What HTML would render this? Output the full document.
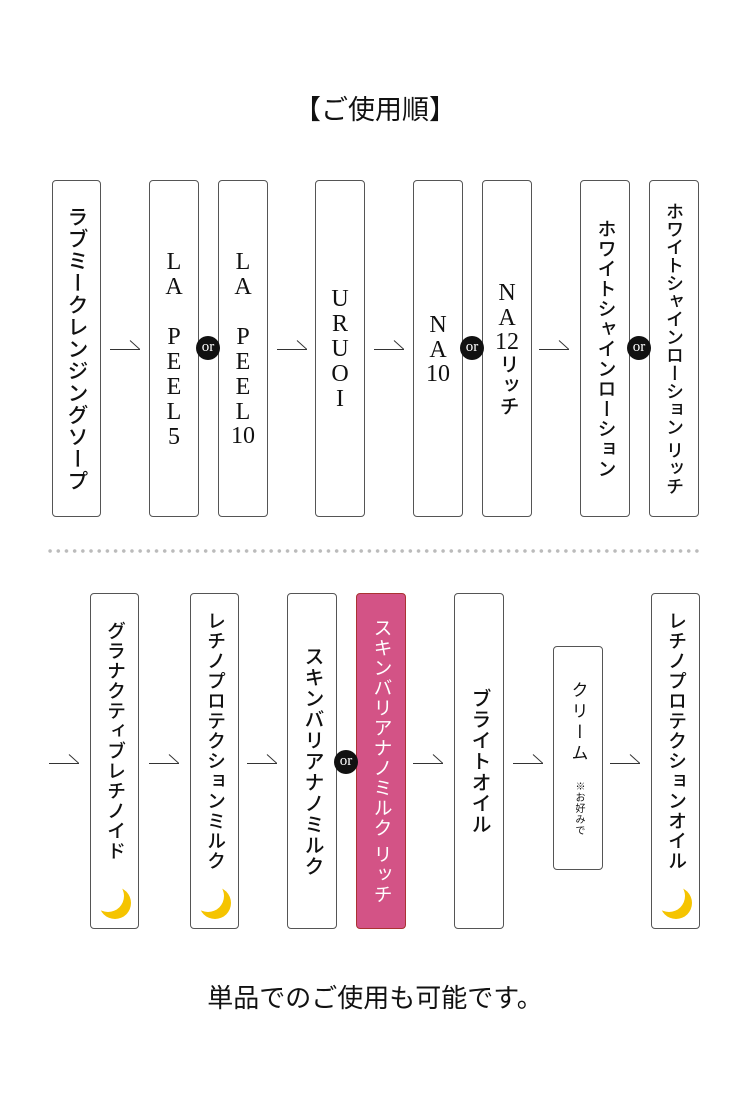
<!DOCTYPE html>
<html><head><meta charset="utf-8"><style>
body{margin:0;width:750px;height:1100px;background:#fff;position:relative;overflow:hidden;font-family:"Liberation Sans","Noto Sans CJK JP",sans-serif;color:#111}
.b{position:absolute;border:1px solid #555;border-radius:4px;box-sizing:border-box;background:#fff;display:flex;align-items:center;justify-content:center}
.v{writing-mode:vertical-rl;font-size:20px;line-height:1;letter-spacing:1px;white-space:nowrap;font-weight:500}
.lat{font-family:"Liberation Serif",serif;text-orientation:upright;font-size:24px;letter-spacing:-1px;font-weight:400}
.tcy{text-combine-upright:all}
.a{position:absolute;width:30px;height:10px}
.or{position:absolute;width:24px;height:24px;border-radius:50%;background:#111;color:#fff;font-family:"Liberation Serif",serif;font-size:15px;line-height:22px;text-align:center;margin:-12px 0 0 -12px}
.moon{position:absolute;bottom:7px;left:8px}
</style></head><body>
<div style="position:absolute;top:88px;width:750px;text-align:center;font-size:27px;font-weight:400">【ご使用順】</div>

<div class="b" style="left:52px;top:180px;width:49px;height:337px"><div class="v" style="font-size:21px">ラブミークレンジングソープ</div></div>
<div class="b" style="left:149px;top:180px;width:50px;height:337px"><div class="v lat">LA PEEL5</div></div>
<div class="b" style="left:218px;top:180px;width:50px;height:337px"><div class="v lat">LA PEEL<span class="tcy">10</span></div></div>
<div class="b" style="left:315px;top:180px;width:50px;height:337px"><div class="v lat">URUOI</div></div>
<div class="b" style="left:413px;top:180px;width:50px;height:337px"><div class="v lat">NA<span class="tcy">10</span></div></div>
<div class="b" style="left:482px;top:180px;width:50px;height:337px"><div class="v"><span class="lat">NA<span class="tcy">12</span></span>リッチ</div></div>
<div class="b" style="left:580px;top:180px;width:50px;height:337px"><div class="v" style="font-size:19px">ホワイトシャインローション</div></div>
<div class="b" style="left:649px;top:180px;width:50px;height:337px"><div class="v" style="font-size:18px;letter-spacing:0">ホワイトシャインローション リッチ</div></div>

<div class="or" style="left:208px;top:348px">or</div>
<div class="or" style="left:472px;top:348px">or</div>
<div class="or" style="left:639px;top:348px">or</div>

<svg class="a" style="left:110px;top:340px" viewBox="0 0 30 10"><path d="M0 9.5H30L20 0.5" fill="none" stroke="#333"/></svg>
<svg class="a" style="left:277px;top:340px" viewBox="0 0 30 10"><path d="M0 9.5H30L20 0.5" fill="none" stroke="#333"/></svg>
<svg class="a" style="left:374px;top:340px" viewBox="0 0 30 10"><path d="M0 9.5H30L20 0.5" fill="none" stroke="#333"/></svg>
<svg class="a" style="left:539px;top:340px" viewBox="0 0 30 10"><path d="M0 9.5H30L20 0.5" fill="none" stroke="#333"/></svg>

<div style="position:absolute;left:46px;top:549px;width:656px;height:4px;background:radial-gradient(circle,#bbb 1.6px,transparent 2px) 0 0/8.2px 4px repeat-x"></div>

<div class="b" style="left:90px;top:593px;width:49px;height:336px"><div class="v" style="margin-bottom:40px;font-size:19px">グラナクティブレチノイド</div>
<svg class="moon" width="34" height="38" viewBox="0 0 34 38"><circle cx="16" cy="20" r="16" fill="#f5c400"/><circle cx="9" cy="13" r="16" fill="#fff"/></svg></div>
<div class="b" style="left:190px;top:593px;width:49px;height:336px"><div class="v" style="margin-bottom:40px;font-size:19px">レチノプロテクションミルク</div>
<svg class="moon" width="34" height="38" viewBox="0 0 34 38"><circle cx="16" cy="20" r="16" fill="#f5c400"/><circle cx="9" cy="13" r="16" fill="#fff"/></svg></div>
<div class="b" style="left:287px;top:593px;width:50px;height:336px"><div class="v">スキンバリアナノミルク</div></div>
<div class="b" style="left:356px;top:593px;width:50px;height:336px;background:#d35386;border-color:#a33"><div class="v" style="color:#fff;font-size:19px;font-weight:400">スキンバリアナノミルク リッチ</div></div>
<div class="b" style="left:454px;top:593px;width:50px;height:336px"><div class="v">ブライトオイル</div></div>
<div class="b" style="left:553px;top:646px;width:50px;height:224px;flex-direction:column"><div class="v" style="font-size:17px;letter-spacing:4px;font-weight:400">クリーム</div><div class="v" style="font-size:10px;margin-top:16px;font-weight:400">※お好みで</div></div>
<div class="b" style="left:651px;top:593px;width:49px;height:336px"><div class="v" style="margin-bottom:40px;font-size:19px">レチノプロテクションオイル</div>
<svg class="moon" width="34" height="38" viewBox="0 0 34 38"><circle cx="16" cy="20" r="16" fill="#f5c400"/><circle cx="9" cy="13" r="16" fill="#fff"/></svg></div>

<div class="or" style="left:346px;top:762px">or</div>

<svg class="a" style="left:49px;top:754px" viewBox="0 0 30 10"><path d="M0 9.5H30L20 0.5" fill="none" stroke="#333"/></svg>
<svg class="a" style="left:149px;top:754px" viewBox="0 0 30 10"><path d="M0 9.5H30L20 0.5" fill="none" stroke="#333"/></svg>
<svg class="a" style="left:247px;top:754px" viewBox="0 0 30 10"><path d="M0 9.5H30L20 0.5" fill="none" stroke="#333"/></svg>
<svg class="a" style="left:413px;top:754px" viewBox="0 0 30 10"><path d="M0 9.5H30L20 0.5" fill="none" stroke="#333"/></svg>
<svg class="a" style="left:513px;top:754px" viewBox="0 0 30 10"><path d="M0 9.5H30L20 0.5" fill="none" stroke="#333"/></svg>
<svg class="a" style="left:610px;top:754px" viewBox="0 0 30 10"><path d="M0 9.5H30L20 0.5" fill="none" stroke="#333"/></svg>

<div style="position:absolute;top:978px;width:750px;text-align:center;font-size:26px;font-weight:400">単品でのご使用も可能です。</div>
</body></html>
